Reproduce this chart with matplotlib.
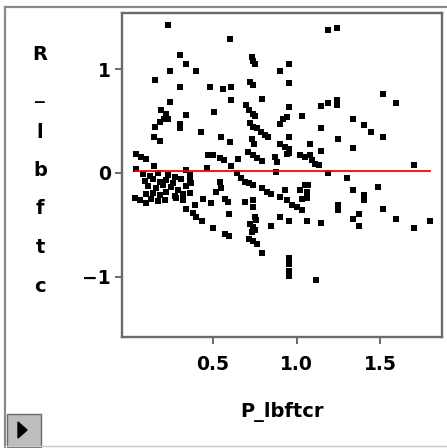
import matplotlib
matplotlib.use("Agg")
import matplotlib.pyplot as plt
from matplotlib.patches import Rectangle, Polygon
from matplotlib.lines import Line2D

# ---- data ----
x_vals = [
    0.23, 0.60, 1.19, 1.24, 0.30, 0.34, 0.40, 0.24, 0.15, 0.30,
    0.48, 0.56, 0.61, 0.61, 0.73, 0.74, 0.75, 0.72, 0.74, 0.79,
    0.90, 0.955, 0.955, 0.24, 0.19, 0.22, 0.205, 0.23, 0.18, 0.15,
    0.30, 0.30, 0.34, 0.145, 0.185, 0.43, 0.505, 0.545, 0.60, 0.70,
    0.715, 0.74, 0.75, 0.72, 0.74, 0.76, 0.785, 0.81, 0.83, 0.735,
    0.745, 0.90, 0.92, 0.94, 0.955, 0.955, 0.90, 0.955, 0.955, 1.035,
    1.08, 1.145, 1.145, 1.19, 1.24, 1.24, 1.145, 1.25, 1.335, 1.335,
    1.405, 1.445, 1.515, 1.515, 1.595, 1.70, 0.04, 0.07, 0.10, 0.04,
    0.145, 0.47, 0.50, 0.54, 0.565, 0.465, 0.61, 0.65, 0.71, 0.74,
    0.76, 0.79, 0.87, 0.88, 0.875, 0.93, 0.94, 1.02, 1.05, 1.08,
    1.09, 1.11, 1.135, 1.19, 1.30, 1.335, 1.405, 1.405, 1.485, 1.25,
    1.25, 1.335, 1.375, 1.375, 1.515, 1.595, 1.70, 1.80, 1.145, 1.065,
    0.90, 0.955, 0.845, 0.79, 0.76, 0.74, 0.715, 0.72, 0.74, 0.75,
    0.73, 0.755, 0.75, 0.69, 0.74, 0.74, 0.595, 0.595, 0.57, 0.50,
    0.435, 0.40, 0.38, 0.34, 0.44, 0.49, 0.54, 0.55, 0.52, 0.57,
    0.59, 0.645, 0.665, 0.69, 0.715, 0.74, 0.79, 0.82, 0.845, 0.90,
    0.93, 0.94, 0.97, 1.00, 1.03, 1.02, 1.05, 1.07, 1.06, 1.03,
    1.065, 0.34, 0.36, 0.37, 0.39, 0.03, 0.06, 0.10, 0.955, 0.955,
    0.955, 0.955, 1.115,
    0.08, 0.12, 0.17, 0.23, 0.27,
    0.09, 0.14, 0.18, 0.22, 0.26, 0.31, 0.36,
    0.11, 0.16, 0.20, 0.25, 0.29, 0.34,
    0.10, 0.14, 0.18, 0.22, 0.27, 0.32, 0.36,
    0.13, 0.17, 0.21, 0.28, 0.32,
]
y_vals = [
    1.42, 1.29, 1.38, 1.40, 1.14, 1.05, 0.98, 0.98, 0.89, 0.83,
    0.83, 0.81, 0.83, 0.70, 1.12, 1.08, 1.05, 0.875, 0.85, 0.71,
    0.98, 1.045, 0.87, 0.68, 0.61, 0.57, 0.52, 0.52, 0.49, 0.44,
    0.47, 0.43, 0.56, 0.35, 0.31, 0.39, 0.59, 0.35, 0.30, 0.65,
    0.61, 0.57, 0.55, 0.48, 0.44, 0.43, 0.39, 0.37, 0.35, 0.33,
    0.28, 0.47, 0.52, 0.54, 0.63, 0.35, 0.28, 0.23, 0.19, 0.545,
    0.28, 0.43, 0.64, 0.67, 0.70, 0.65, 0.21, 0.33, 0.52, 0.24,
    0.46, 0.39, 0.35, 0.76, 0.67, 0.08, 0.18, 0.155, 0.13, 0.04,
    0.065, 0.175, 0.17, 0.14, 0.12, 0.05, 0.07, 0.13, 0.20, 0.17,
    0.14, 0.115, 0.155, 0.105, 0.01, 0.25, 0.185, 0.17, 0.155, 0.17,
    0.12, 0.09, 0.075, -0.005, -0.05, -0.16, -0.215, -0.26, -0.135, -0.31,
    -0.36, -0.44, -0.40, -0.51, -0.35, -0.44, -0.53, -0.465, -0.48, -0.465,
    -0.42, -0.465, -0.51, -0.77, -0.68, -0.655, -0.635, -0.49, -0.52, -0.55,
    -0.57, -0.455, -0.42, -0.28, -0.26, -0.33, -0.40, -0.61, -0.59, -0.53,
    -0.46, -0.42, -0.385, -0.35, -0.25, -0.29, -0.09, -0.15, -0.18, -0.25,
    -0.28, -0.005, -0.045, -0.085, -0.095, -0.12, -0.15, -0.18, -0.20, -0.23,
    -0.16, -0.26, -0.31, -0.33, -0.36, -0.165, -0.12, -0.12, -0.18, -0.255,
    -0.245, 0.025, -0.02, -0.10, -0.31, -0.245, -0.26, -0.285, -0.82, -0.88,
    -0.94, -0.99, -1.03,
    -0.01, -0.03, 0.00, -0.02, -0.04,
    -0.08, -0.06, -0.09, -0.07, -0.10, -0.06, -0.08,
    -0.13, -0.15, -0.12, -0.14, -0.16, -0.13,
    -0.20, -0.19, -0.21, -0.18, -0.22, -0.20, -0.19,
    -0.25, -0.27, -0.26, -0.24, -0.26,
]

fit_x = [0.03, 1.80]
fit_y = [0.016, 0.016]

x_ticks = [0.5, 1.0, 1.5]
x_tick_labels = ["0.5", "1.0", "1.5"]
y_ticks = [-1, 0, 1]
y_tick_labels = ["\u22121", "0", "1"]
x_label = "P_lbftcr"
y_label = "R_lbftc"

W, H = 447, 448
fig = plt.figure(figsize=(W / 100, H / 100), dpi=100)
fig.patch.set_facecolor("white")

ax = fig.add_axes([122 / W, 111 / H, 320 / W, 324 / H])
ax.set_xlim(-0.045, 1.87)
ax.set_ylim(-1.58, 1.54)

ax.plot(x_vals, y_vals, linestyle="none", marker="s", markersize=4.4,
        markeredgewidth=0, color="black", zorder=2)
ax.plot(fit_x, fit_y, color="#ff0000", linewidth=1.3, zorder=3)

ax.set_xticks(x_ticks)
ax.set_xticklabels(x_tick_labels)
ax.set_yticks(y_ticks)
ax.set_yticklabels(y_tick_labels)

for sp in ax.spines.values():
    sp.set_color("#6a6a6a")
    sp.set_linewidth(1.7)

ax.tick_params(axis="both", direction="out", length=5, width=1.4,
               color="#6a6a6a", labelcolor="black")
ax.tick_params(axis="x", pad=8)
ax.tick_params(axis="y", pad=3)
for lab in ax.get_xticklabels() + ax.get_yticklabels():
    lab.set_fontsize(13.5)
    lab.set_fontweight("bold")
    lab.set_fontfamily("DejaVu Sans")

fig.text(282 / W, 1 - 412 / H, x_label, ha="center", va="center",
         fontsize=14, fontweight="bold", family="DejaVu Sans")

fig.text(40 / W, 1 - 170 / H, "\n".join(y_label), ha="center", va="center",
         fontsize=14, fontweight="bold", family="DejaVu Sans",
         linespacing=2.3)

# outer window frame
fig.add_artist(Line2D([5 / W, 5 / W], [1 - 7 / H, 0.0], transform=fig.transFigure,
                      color="#8a8a8a", linewidth=1.6))
fig.add_artist(Line2D([5 / W, 1.0], [1 - 7 / H, 1 - 7 / H], transform=fig.transFigure,
                      color="#8a8a8a", linewidth=1.6))
fig.add_artist(Line2D([5 / W, 1.0], [1 - 446 / H, 1 - 446 / H], transform=fig.transFigure,
                      color="#c8c8c8", linewidth=1.0))

# small disclosure button in the lower-left corner
fig.add_artist(Rectangle((7 / W, 1 - 447 / H), 34 / W, 33 / H,
                         transform=fig.transFigure, facecolor="#bdbdbd",
                         edgecolor="#6a6a6a", linewidth=1.0))
fig.add_artist(Polygon([(18 / W, 1 - 422 / H), (18 / W, 1 - 438 / H), (27 / W, 1 - 430 / H)],
                       closed=True, transform=fig.transFigure,
                       facecolor="black", edgecolor="black"))

fig.savefig("out.png", dpi=100)
